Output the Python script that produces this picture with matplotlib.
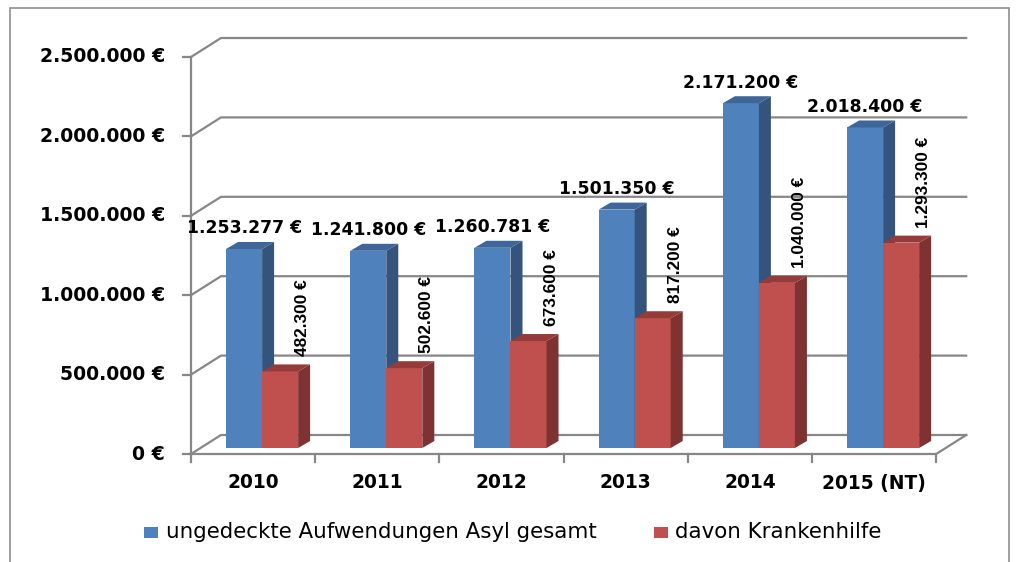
"""Ungedeckte Aufwendungen Asyl 2010-2015, Excel-style 3D column chart."""

import matplotlib
matplotlib.use("Agg")
import matplotlib.pyplot as plt
from matplotlib.patches import Polygon, Rectangle
import numpy as np

years = ["2010", "2011", "2012", "2013", "2014", "2015 (NT)"]
total = [1253277, 1241800, 1260781, 1501350, 2171200, 2018400]
health = [482300, 502600, 673600, 817200, 1040000, 1293300]
y_ticks = [0, 500000, 1000000, 1500000, 2000000, 2500000]
series_names = ["ungedeckte Aufwendungen Asyl gesamt", "davon Krankenhilfe"]

BLUE = ("#4f81bd", "#34547e", "#3e6699")   # front, side, top
RED = ("#c0504d", "#7e3231", "#953b39")
GRID = "#878787"

# figure / plot area geometry in pixels
W, H = 1017, 562
X0_PX, Y0_PX = 191, 454        # front-left corner of the floor
CAT_PX, MIO_PX = 124.2, 158.8  # px per category, px per million


def dx(px):
    return px / CAT_PX


def dy(px):
    return px / MIO_PX * 1e6


def px2x(px):
    return -0.5 + dx(px - X0_PX)


def py2y(py):
    return dy(Y0_PX - py)


def eur(v):
    return f"{v:,.0f} €".replace(",", ".")


WDX, WDY = dx(30), dy(19)   # wall depth
SX, SY = dx(9), dy(6)       # bar offset from front plane
BDX, BDY = dx(12), dy(7)    # bar depth
BW = 0.29

fig = plt.figure(figsize=(W / 100, H / 100), dpi=100)
ax = fig.add_axes([0, 0, 1, 1])
ax.set_xlim(px2x(0), px2x(W))
ax.set_ylim(py2y(H), py2y(0))
ax.axis("off")

idx = np.arange(len(years))
n = len(years)

# walls: gridlines on back wall + diagonals on side wall
for t in y_ticks:
    ax.plot([-0.5, -0.5 + WDX, n - 0.5 + WDX], [t, t + WDY, t + WDY],
            color=GRID, lw=1.6, zorder=1)
    ax.plot([-0.5 - dx(8), -0.5], [t, t], color=GRID, lw=1.6, zorder=1)
    ax.text(-0.5 - dx(26), t, eur(t), ha="right", va="center",
            fontsize=13.6, fontweight="bold")
ax.plot([-0.5, -0.5], [0, y_ticks[-1]], color=GRID, lw=1.6, zorder=1)
ax.plot([-0.5, n - 0.5, n - 0.5 + WDX], [0, 0, WDY], color=GRID, lw=1.6, zorder=4)
for k in range(n + 1):
    ax.plot([k - 0.5, k - 0.5], [0, -dy(8)], color=GRID, lw=1.6, zorder=4)
for i, yr in enumerate(years):
    ax.text(i, -dy(29), yr, ha="center", va="center", fontsize=13.4, fontweight="bold")


def bars3d(lefts, values, colors, z):
    ax.bar(lefts, values, width=BW, bottom=SY, align="edge", color=colors[0],
           lw=0, zorder=z)
    for x0, v in zip(lefts, values):
        x1, top = x0 + BW, v + SY
        ax.add_patch(Polygon([(x1, SY), (x1 + BDX, SY + BDY), (x1 + BDX, top + BDY), (x1, top)],
                             closed=True, fc=colors[1], lw=0, zorder=z))
        ax.add_patch(Polygon([(x0, top), (x0 + BDX, top + BDY), (x1 + BDX, top + BDY), (x1, top)],
                             closed=True, fc=colors[2], lw=0, zorder=z))


bars3d(idx - BW + SX, total, BLUE, 2)
bars3d(idx + SX, health, RED, 3)

for i, v in enumerate(total):
    ax.text(i - BW / 2 + SX, v + SY + dy(20.5), eur(v), ha="center", va="center",
            fontsize=12.4, fontweight="bold", zorder=5)
for i, v in enumerate(health):
    ax.text(i + 0.4, v + SY + dy(15), eur(v), ha="center", va="bottom", rotation=90,
            fontsize=12.4, fontweight="bold", family=["Liberation Sans", "DejaVu Sans"],
            zorder=5)

# legend
for (lx, tx), name, col in zip([(144, 166), (654, 675)], series_names, [BLUE[0], RED[0]]):
    ax.add_patch(Rectangle((px2x(lx), py2y(538)), dx(14), dy(11), fc=col, lw=0))
    ax.text(px2x(tx), py2y(532), name, ha="left", va="center", fontsize=15.4)

# chart area border
ax.add_patch(Rectangle((px2x(10), py2y(580)), dx(999), dy(572), fill=False,
                       ec="#8e8e8e", lw=1.2, clip_on=False))

fig.savefig("out.png", dpi=100)
